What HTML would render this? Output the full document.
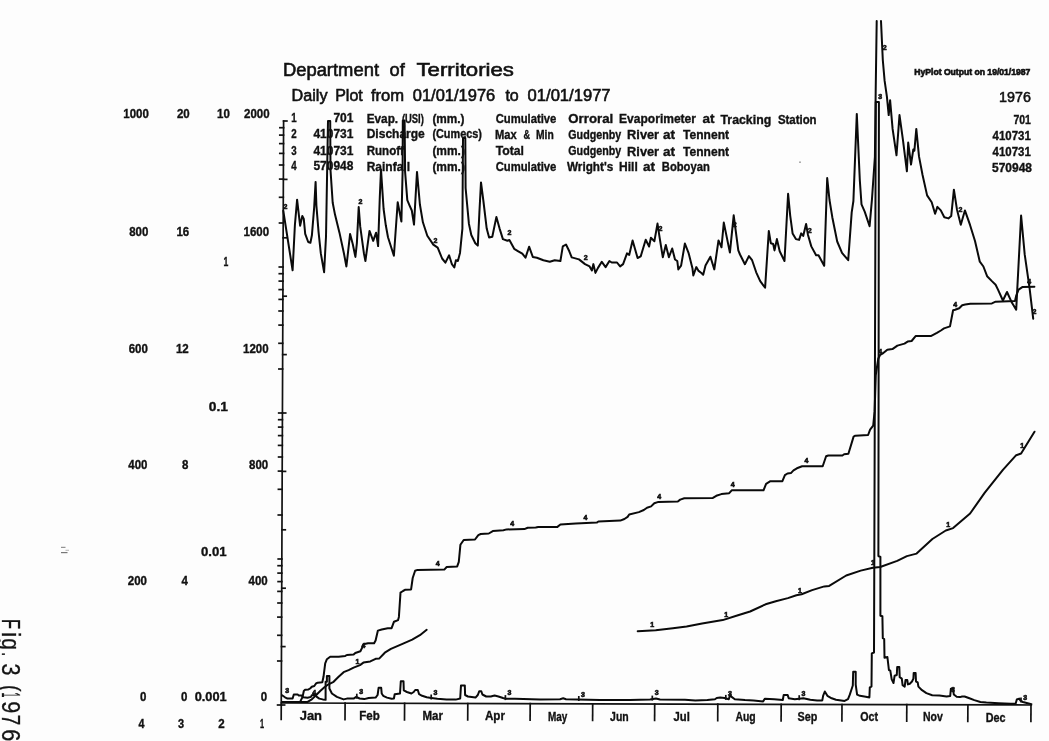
<!DOCTYPE html>
<html><head><meta charset="utf-8"><title>Daily Plot</title>
<style>html,body{margin:0;padding:0;background:#fdfdfd;}svg{display:block;}</style>
</head><body>
<svg width="1049" height="741" viewBox="0 0 1049 741">
<rect width="100%" height="100%" fill="#fdfdfd"/>
<g stroke="#111" stroke-width="1.7" fill="none" stroke-linecap="square">
<line x1="283.6" y1="121" x2="281.2" y2="719.5"/>
<line x1="281.3" y1="703.0" x2="1031.3" y2="705.0"/>
<line x1="345.1" y1="703.2" x2="345.0" y2="719.7"/>
<line x1="404.6" y1="703.3" x2="404.5" y2="719.8"/>
<line x1="467.8" y1="703.5" x2="467.7" y2="720.0"/>
<line x1="530.2" y1="703.7" x2="530.1" y2="720.2"/>
<line x1="592.7" y1="703.8" x2="592.6" y2="720.3"/>
<line x1="654.7" y1="704.0" x2="654.6" y2="720.5"/>
<line x1="717.8" y1="704.2" x2="717.7" y2="720.7"/>
<line x1="781.2" y1="704.3" x2="781.1" y2="720.8"/>
<line x1="842.0" y1="704.5" x2="841.9" y2="721.0"/>
<line x1="906.8" y1="704.7" x2="906.7" y2="721.2"/>
<line x1="967.9" y1="704.8" x2="967.8" y2="721.3"/>
<line x1="1031.0" y1="705.0" x2="1030.9" y2="721.5"/>
<line x1="283.6" y1="121.0" x2="286.9" y2="121.0"/>
<line x1="283.4" y1="179.4" x2="286.7" y2="179.4"/>
<line x1="283.1" y1="237.8" x2="286.4" y2="237.8"/>
<line x1="282.9" y1="296.2" x2="286.2" y2="296.2"/>
<line x1="282.7" y1="354.6" x2="286.0" y2="354.6"/>
<line x1="282.4" y1="413.0" x2="285.7" y2="413.0"/>
<line x1="282.2" y1="471.4" x2="285.5" y2="471.4"/>
<line x1="282.0" y1="529.8" x2="285.3" y2="529.8"/>
<line x1="281.8" y1="588.2" x2="285.1" y2="588.2"/>
<line x1="281.5" y1="646.6" x2="284.8" y2="646.6"/>
<line x1="281.3" y1="705.0" x2="284.6" y2="705.0"/>
<line x1="279.5" y1="223.0" x2="283.2" y2="223.0"/>
<line x1="279.6" y1="197.3" x2="283.3" y2="197.3"/>
<line x1="279.7" y1="179.1" x2="283.4" y2="179.1"/>
<line x1="279.7" y1="165.0" x2="283.4" y2="165.0"/>
<line x1="279.8" y1="153.4" x2="283.5" y2="153.4"/>
<line x1="279.8" y1="143.6" x2="283.5" y2="143.6"/>
<line x1="279.8" y1="135.1" x2="283.5" y2="135.1"/>
<line x1="279.9" y1="127.7" x2="283.6" y2="127.7"/>
<line x1="279.3" y1="267.0" x2="283.0" y2="267.0"/>
<line x1="278.9" y1="369.0" x2="282.6" y2="369.0"/>
<line x1="279.0" y1="343.3" x2="282.7" y2="343.3"/>
<line x1="279.1" y1="325.1" x2="282.8" y2="325.1"/>
<line x1="279.1" y1="311.0" x2="282.8" y2="311.0"/>
<line x1="279.2" y1="299.4" x2="282.9" y2="299.4"/>
<line x1="279.2" y1="289.6" x2="282.9" y2="289.6"/>
<line x1="279.3" y1="281.1" x2="283.0" y2="281.1"/>
<line x1="279.3" y1="273.7" x2="283.0" y2="273.7"/>
<line x1="278.7" y1="413.0" x2="282.4" y2="413.0"/>
<line x1="278.3" y1="515.0" x2="282.0" y2="515.0"/>
<line x1="278.4" y1="489.3" x2="282.1" y2="489.3"/>
<line x1="278.5" y1="471.1" x2="282.2" y2="471.1"/>
<line x1="278.6" y1="457.0" x2="282.3" y2="457.0"/>
<line x1="278.6" y1="445.4" x2="282.3" y2="445.4"/>
<line x1="278.7" y1="435.6" x2="282.4" y2="435.6"/>
<line x1="278.7" y1="427.1" x2="282.4" y2="427.1"/>
<line x1="278.7" y1="419.7" x2="282.4" y2="419.7"/>
<line x1="278.2" y1="559.0" x2="281.9" y2="559.0"/>
<line x1="277.8" y1="661.0" x2="281.5" y2="661.0"/>
<line x1="277.9" y1="635.3" x2="281.6" y2="635.3"/>
<line x1="277.9" y1="617.1" x2="281.6" y2="617.1"/>
<line x1="278.0" y1="603.0" x2="281.7" y2="603.0"/>
<line x1="278.0" y1="591.4" x2="281.7" y2="591.4"/>
<line x1="278.1" y1="581.6" x2="281.8" y2="581.6"/>
<line x1="278.1" y1="573.1" x2="281.8" y2="573.1"/>
<line x1="278.1" y1="565.7" x2="281.8" y2="565.7"/>
<line x1="277.6" y1="705.0" x2="281.3" y2="705.0"/>
</g>
<g stroke="#0a0a0a" stroke-width="2.0" fill="none" stroke-linejoin="round" stroke-linecap="round">
<polyline points="283.3,210.8 292.6,270.3 294.9,225.0 297.1,199.7 300.1,225.7 302.3,216.0 303.8,219.0 305.2,233.9 308.2,242.0 310.4,242.8 311.9,235.3 314.2,207.1 315.6,181.9 316.4,205.6 318.6,232.4 320.8,253.2 324.1,272.2 326.0,236.8 328.0,121.0 330.2,121.0 330.5,170.0 332.7,202.7 335.0,214.6 339.4,232.4 343.9,253.2 346.4,266.5 350.1,233.9 352.8,244.3 355.4,256.9 356.9,242.8 358.7,207.1 360.2,226.4 363.9,253.2 365.4,261.0 369.5,230.9 373.2,240.9 376.1,232.7 378.1,246.1 379.8,197.1 381.0,169.6 383.6,209.0 385.8,225.3 388.0,237.2 393.9,255.7 397.7,202.3 401.4,221.6 402.6,171.9 402.8,120.5 404.6,120.5 405.1,171.9 407.3,200.1 409.5,205.3 411.8,210.5 414.0,224.6 417.0,171.9 419.9,204.5 422.9,222.3 427.3,235.7 433.3,244.6 437.7,247.6 442.1,258.5 445.4,262.6 449.1,255.3 451.9,264.2 454.3,267.5 455.9,260.2 457.9,261.0 460.0,252.9 462.4,228.6 463.0,138.0 465.3,138.0 465.6,188.0 468.9,223.7 471.3,235.0 475.3,243.2 477.8,245.6 479.4,212.4 481.0,182.4 483.4,201.0 486.7,228.6 489.1,237.5 492.3,236.7 496.4,216.9 499.6,228.6 502.9,239.1 507.4,240.7 509.4,240.0 514.2,248.8 518.3,251.3 522.3,253.7 525.5,257.7 529.1,246.7 532.8,256.9 536.9,257.7 543.4,260.2 549.8,261.8 554.7,260.2 560.4,261.0 562.8,246.4 566.0,244.5 569.3,251.3 571.7,257.4 579.0,259.4 585.0,264.1 589.6,266.4 591.9,270.5 593.4,264.1 595.4,272.9 598.0,267.9 601.8,261.8 605.6,267.1 609.4,261.0 611.7,262.5 617.0,262.5 620.1,266.4 623.1,264.1 627.0,253.4 629.2,254.9 632.6,240.4 637.6,258.0 640.7,256.4 645.7,239.7 649.1,246.5 650.9,237.8 654.4,241.2 657.5,223.6 659.7,238.1 662.8,257.2 665.8,245.0 668.9,257.2 672.2,248.5 675.0,259.5 677.3,261.0 678.3,269.4 681.1,265.6 684.9,243.5 688.7,253.4 692.5,268.6 693.3,275.5 696.3,267.1 698.6,270.9 701.7,273.2 703.2,274.7 705.5,265.6 710.4,256.7 714.3,269.4 718.5,240.4 721.5,247.3 723.8,222.6 729.9,252.6 733.7,215.3 738.3,250.3 740.0,254.5 744.9,264.2 748.9,256.1 752.1,260.2 756.2,272.3 760.2,281.2 765.1,287.7 768.8,231.0 770.8,243.2 773.2,244.0 774.5,250.4 776.9,239.1 779.7,251.3 784.5,261.0 788.1,193.8 790.2,215.6 792.6,233.4 795.9,239.1 799.1,239.9 801.2,233.4 803.2,235.9 806.1,224.0 808.0,235.0 811.3,246.4 816.1,255.3 818.5,255.3 824.2,265.8 827.2,178.0 829.5,200.0 832.3,217.2 837.2,241.5 842.0,252.9 848.2,260.2 851.7,212.4 853.4,201.0 856.8,113.9 859.8,180.0 861.5,204.3 864.7,211.6 869.6,226.2 871.9,200.2 874.9,156.9 875.7,90.0 876.7,21.0"/>
<polyline points="881.0,21.0 882.8,60.0 884.6,80.7 886.9,96.7 888.7,115.1 890.1,100.2 892.6,128.9 896.5,155.3 899.5,115.1 903.0,140.3 906.9,171.3 908.2,142.6 911.0,164.5 913.3,149.5 914.4,150.7 916.3,128.9 919.0,156.4 922.5,174.8 927.1,195.4 931.7,202.3 935.1,213.8 937.4,206.9 940.8,210.4 944.3,217.3 948.4,218.4 951.2,216.1 953.9,189.7 956.9,209.2 960.8,224.8 964.9,210.4 970.1,225.2 975.0,241.0 979.8,261.7 983.4,266.5 987.1,276.2 991.9,281.1 995.6,284.7 998.0,289.6 1002.9,300.5 1007.0,292.0 1011.4,301.7 1016.2,309.7 1021.1,215.5 1024.7,254.4 1029.6,288.3 1033.2,318.7"/>
<polyline points="282.1,695.2 285.0,697.3 287.5,698.6 292.6,698.6 293.8,694.4 297.6,694.4 298.8,695.6 301.8,695.6 303.0,697.3 307.6,697.7 311.0,696.9 311.8,695.2 315.1,694.8 316.8,696.9 319.3,698.6 322.7,699.4 325.6,699.8 325.6,681.8 326.9,681.8 326.9,676.0 329.4,676.0 329.4,688.5 331.9,693.5 336.9,696.9 343.6,699.4 346.9,698.6 353.6,698.6 356.2,696.9 359.6,698.5 364.2,699.1 368.7,698.0 375.6,697.6 377.6,695.0 378.6,687.8 381.2,687.8 381.7,693.5 383.2,695.8 387.0,697.6 391.6,698.8 393.9,698.5 394.7,694.2 400.0,693.5 400.8,681.3 403.5,681.3 403.8,690.4 406.9,692.0 411.4,693.5 413.7,692.0 415.2,690.0 417.8,690.0 419.1,694.2 422.1,695.8 426.7,697.3 431.3,698.0 437.4,698.8 446.5,699.6 455.7,699.6 460.2,698.5 461.0,685.4 464.8,685.4 465.1,695.0 467.9,696.5 475.5,697.6 477.8,695.0 479.3,691.2 481.3,691.2 482.4,694.5 486.2,696.5 490.8,696.5 494.6,695.5 498.4,696.5 503.0,698.0 506.0,698.8 515.0,698.8 540.0,699.5 560.0,699.2 563.2,698.3 566.0,699.2 600.0,700.0 630.0,700.0 650.0,699.5 656.0,698.5 660.0,699.5 685.0,699.7 695.3,700.4 707.3,700.0 715.0,699.2 716.7,698.0 720.2,697.5 724.5,698.0 728.8,699.2 730.0,694.9 731.3,696.6 734.8,699.2 745.0,700.0 753.6,700.4 763.1,701.4 764.8,698.7 774.2,699.2 782.8,700.0 783.7,694.9 787.6,694.9 788.8,698.3 794.8,699.2 803.4,698.3 810.3,699.7 817.1,700.4 822.3,700.4 823.1,695.8 824.8,691.5 827.4,695.8 831.7,698.3 836.0,699.7 844.6,700.9 848.0,699.2 849.7,694.9 851.4,689.8 852.8,685.5 853.2,671.7 855.7,671.7 855.7,684.6 857.1,694.6 860.0,695.8 865.8,696.7 869.4,697.4 869.8,687.3 871.5,686.6 871.8,653.4 874.0,652.5 875.8,101.9 878.9,101.9 878.4,556.0 880.4,557.0 880.4,615.7 882.4,616.3 882.8,638.2 884.2,639.0 884.5,657.7 887.4,657.0 888.9,670.0 890.3,670.7 891.7,679.4 893.5,683.0 894.6,675.8 896.8,675.0 897.2,667.1 899.3,667.1 899.7,677.2 901.8,678.6 902.6,685.1 904.7,686.6 905.5,680.1 907.3,680.1 907.9,684.4 909.8,683.7 912.0,681.5 913.4,678.6 913.7,672.9 915.6,672.9 916.0,681.5 917.7,682.3 918.4,686.6 922.0,690.2 926.4,693.1 932.2,695.2 939.4,695.5 946.6,696.4 950.2,696.0 950.9,688.7 953.1,688.7 953.8,694.5 956.7,696.7 960.0,697.1 962.1,696.5 964.6,696.5 969.4,698.3 974.3,700.1 980.4,702.0 986.4,702.6 998.6,703.2 1010.7,703.8 1015.6,703.8 1016.8,699.5 1019.2,698.6 1020.5,700.7 1022.9,702.0 1027.7,703.2 1031.4,704.1"/>
<polyline points="282.6,701.9 300.1,701.9 302.6,696.9 303.8,691.0 305.1,689.8 308.5,689.4 310.1,688.5 311.8,686.8 314.3,686.0 316.0,683.5 317.7,682.7 322.3,682.2 323.5,676.8 325.2,663.4 326.9,659.2 330.2,656.7 338.6,656.7 345.3,655.9 346.9,655.0 353.6,654.6 355.3,653.0 360.4,651.2 362.7,646.6 363.4,644.3 368.0,643.3 374.1,643.3 375.6,640.5 377.9,630.6 381.7,629.5 387.8,628.3 391.6,628.2 394.0,621.7 398.1,620.1 398.9,616.9 400.5,592.6 403.0,591.0 405.4,589.7 411.1,589.4 412.7,578.0 415.1,570.7 417.5,569.9 444.3,569.6 446.7,567.0 457.2,566.4 458.8,561.8 460.4,544.8 463.7,540.0 475.0,539.5 478.3,535.1 480.7,534.0 488.8,533.5 492.8,531.1 503.4,530.2 506.6,529.4 524.4,529.1 527.7,527.8 535.7,527.5 538.2,527.0 557.1,527.1 560.4,524.5 575.8,523.4 596.8,522.6 598.4,521.5 620.3,520.6 624.4,519.0 627.6,516.9 629.2,514.5 638.9,512.1 643.8,510.0 647.0,507.7 651.1,506.4 654.3,503.2 658.4,501.9 677.8,501.5 680.2,499.6 684.3,498.3 712.9,497.9 716.3,495.8 721.4,494.1 729.2,493.2 731.7,490.3 763.5,490.3 766.1,483.8 770.4,481.2 782.4,481.2 784.9,475.2 787.5,473.5 790.9,473.1 793.5,470.4 796.9,468.3 802.1,466.3 822.7,466.3 826.1,456.3 828.3,455.5 842.4,455.5 844.1,454.3 848.4,453.8 853.6,436.6 855.3,435.7 868.1,435.0 870.1,429.6 873.2,425.6 874.6,411.4 875.8,375.0 878.2,358.8 880.2,354.8 883.3,353.1 887.3,349.7 892.4,349.1 897.4,345.6 904.5,343.6 907.6,341.6 911.6,341.0 915.6,336.1 930.8,336.1 936.9,332.9 940.9,330.5 944.0,328.4 950.0,326.4 953.1,310.2 955.1,309.8 959.2,308.2 962.2,305.2 965.2,304.6 970.3,303.8 991.9,303.4 995.6,301.7 1015.0,301.0 1016.2,295.6 1018.6,289.6 1022.3,287.1 1034.4,286.7"/>
<polyline points="282.6,701.9 307.6,701.9 311.8,699.4 316.0,695.2 320.2,691.0 324.4,687.3 328.5,684.3 333.6,681.8 338.6,676.8 343.6,672.2 348.6,670.1 353.6,667.6 360.0,665.1 363.4,662.6 370.3,661.4 375.6,658.8 379.4,658.4 384.8,652.7 390.9,648.9 403.1,643.6 412.2,639.7 419.9,635.2 426.7,629.8"/>
<polyline points="637.7,631.2 655.7,630.3 672.9,628.3 686.6,626.6 702.1,623.5 722.7,620.1 736.4,615.8 750.1,611.5 765.6,604.3 775.8,601.2 787.9,598.1 796.4,595.2 801.6,594.3 812.1,590.1 824.3,586.4 829.2,585.9 846.2,575.5 860.7,570.6 872.9,567.7 880.2,567.0 897.2,560.9 906.9,556.1 916.6,553.6 932.4,539.0 945.8,530.5 953.1,528.1 970.1,513.5 984.6,492.9 1002.9,469.8 1016.2,455.2 1021.1,453.5 1034.5,431.7"/>
</g>
<g stroke="#111" stroke-width="1.7" fill="none">
<line x1="356.8" y1="693.7" x2="356.8" y2="698.7"/>
<line x1="431.2" y1="694.5" x2="431.2" y2="699.5"/>
<line x1="505.4" y1="695.1" x2="505.4" y2="700.1"/>
<line x1="578.8" y1="696.0" x2="578.8" y2="701.0"/>
<line x1="652.3" y1="695.6" x2="652.3" y2="700.6"/>
<line x1="725.8" y1="694.9" x2="725.8" y2="699.9"/>
<line x1="799.2" y1="695.2" x2="799.2" y2="700.2"/>
<line x1="1021.0" y1="697.5" x2="1021.0" y2="702.5"/>
</g>
<g font-family="Liberation Sans, sans-serif" font-weight="bold" font-size="7" fill="#111" stroke="#111" stroke-width="0.6" text-anchor="middle">
<text x="285.5" y="208.6">2</text>
<text x="360.5" y="204.1">2</text>
<text x="435.5" y="243.1">2</text>
<text x="509.4" y="235.2">2</text>
<text x="585.8" y="260.3">2</text>
<text x="660.5" y="230.8">2</text>
<text x="734.6" y="227.1">2</text>
<text x="809.6" y="232.8">2</text>
<text x="884.6" y="50.4">2</text>
<text x="960.4" y="212.1">2</text>
<text x="1034.4" y="314.0">2</text>
<text x="287.3" y="693.4">3</text>
<text x="361.1" y="693.8">3</text>
<text x="435.5" y="695.0">3</text>
<text x="509.4" y="695.0">3</text>
<text x="582.9" y="696.6">3</text>
<text x="656.7" y="694.9">3</text>
<text x="730.0" y="696.1">3</text>
<text x="803.4" y="695.8">3</text>
<text x="880.1" y="98.6">3</text>
<text x="953.0" y="691.6">3</text>
<text x="1025.3" y="699.7">3</text>
<text x="314.3" y="695.3">4</text>
<text x="363.4" y="647.6">4</text>
<text x="437.8" y="566.0">4</text>
<text x="512.3" y="525.9">4</text>
<text x="585.5" y="519.5">4</text>
<text x="659.2" y="499.3">4</text>
<text x="732.6" y="487.2">4</text>
<text x="806.4" y="463.2">4</text>
<text x="880.2" y="354.3">4</text>
<text x="955.1" y="306.8">4</text>
<text x="1029.1" y="283.6">4</text>
<text x="357.4" y="663.9">1</text>
<text x="652.3" y="626.9">1</text>
<text x="726.1" y="616.6">1</text>
<text x="799.9" y="592.6">1</text>
<text x="872.9" y="564.7">1</text>
<text x="948.2" y="527.1">1</text>
<text x="1022.3" y="448.1">1</text>
</g>
<g fill="#111">
<text x="282.9" y="75.6" font-family="Liberation Sans, sans-serif" font-weight="normal" font-size="18.5" textLength="96.1" lengthAdjust="spacingAndGlyphs" stroke="#111" stroke-width="0.6">Department</text>
<text x="389.5" y="75.6" font-family="Liberation Sans, sans-serif" font-weight="normal" font-size="18.5" textLength="15.2" lengthAdjust="spacingAndGlyphs" stroke="#111" stroke-width="0.6">of</text>
<text x="416.5" y="75.6" font-family="Liberation Sans, sans-serif" font-weight="normal" font-size="18.5" textLength="97.4" lengthAdjust="spacingAndGlyphs" stroke="#111" stroke-width="0.6">Territories</text>
<text x="291.5" y="100.6" font-family="Liberation Sans, sans-serif" font-weight="normal" font-size="17" textLength="36.0" lengthAdjust="spacingAndGlyphs" stroke="#111" stroke-width="0.6">Daily</text>
<text x="335.2" y="100.6" font-family="Liberation Sans, sans-serif" font-weight="normal" font-size="17" textLength="27.6" lengthAdjust="spacingAndGlyphs" stroke="#111" stroke-width="0.6">Plot</text>
<text x="370.9" y="100.6" font-family="Liberation Sans, sans-serif" font-weight="normal" font-size="17" textLength="33.2" lengthAdjust="spacingAndGlyphs" stroke="#111" stroke-width="0.6">from</text>
<text x="412.8" y="100.6" font-family="Liberation Sans, sans-serif" font-weight="normal" font-size="17" textLength="82.4" lengthAdjust="spacingAndGlyphs" stroke="#111" stroke-width="0.6">01/01/1976</text>
<text x="505.4" y="100.6" font-family="Liberation Sans, sans-serif" font-weight="normal" font-size="17" textLength="13.4" lengthAdjust="spacingAndGlyphs" stroke="#111" stroke-width="0.6">to</text>
<text x="527.6" y="100.6" font-family="Liberation Sans, sans-serif" font-weight="normal" font-size="17" textLength="83.0" lengthAdjust="spacingAndGlyphs" stroke="#111" stroke-width="0.6">01/01/1977</text>
<text x="914.3" y="75.2" font-family="Liberation Sans, sans-serif" font-weight="bold" font-size="9.5" textLength="116.1" lengthAdjust="spacingAndGlyphs" stroke="#111" stroke-width="0.7">HyPlot Output on 19/01/1987</text>
<text x="999.1" y="102.0" font-family="Liberation Sans, sans-serif" font-weight="normal" font-size="14.5" textLength="31.8" lengthAdjust="spacingAndGlyphs" stroke="#111" stroke-width="0.55">1976</text>
<text x="291.2" y="122.4" font-family="Liberation Sans, sans-serif" font-weight="bold" font-size="12.3" textLength="5.4" lengthAdjust="spacingAndGlyphs" stroke="#111" stroke-width="0.35">1</text>
<text x="333.4" y="122.4" font-family="Liberation Sans, sans-serif" font-weight="bold" font-size="12.3" textLength="20.0" lengthAdjust="spacingAndGlyphs" stroke="#111" stroke-width="0.35">701</text>
<text x="366.7" y="122.6" font-family="Liberation Sans, sans-serif" font-weight="bold" font-size="12.3" textLength="31.4" lengthAdjust="spacingAndGlyphs" stroke="#111" stroke-width="0.35">Evap.</text>
<text x="401.9" y="122.7" font-family="Liberation Sans, sans-serif" font-weight="bold" font-size="12.3" textLength="22.0" lengthAdjust="spacingAndGlyphs" stroke="#111" stroke-width="0.35">(USI)</text>
<text x="432.4" y="122.7" font-family="Liberation Sans, sans-serif" font-weight="bold" font-size="12.3" textLength="32.1" lengthAdjust="spacingAndGlyphs" stroke="#111" stroke-width="0.35">(mm.)</text>
<text x="495.7" y="123.0" font-family="Liberation Sans, sans-serif" font-weight="bold" font-size="12.3" textLength="60.7" lengthAdjust="spacingAndGlyphs" stroke="#111" stroke-width="0.35">Cumulative</text>
<text x="568.3" y="123.1" font-family="Liberation Sans, sans-serif" font-weight="bold" font-size="12.3" textLength="44.9" lengthAdjust="spacingAndGlyphs" stroke="#111" stroke-width="0.35">Orroral</text>
<text x="619.1" y="123.3" font-family="Liberation Sans, sans-serif" font-weight="bold" font-size="12.3" textLength="76.9" lengthAdjust="spacingAndGlyphs" stroke="#111" stroke-width="0.35">Evaporimeter</text>
<text x="702.6" y="123.4" font-family="Liberation Sans, sans-serif" font-weight="bold" font-size="12.3" textLength="12.0" lengthAdjust="spacingAndGlyphs" stroke="#111" stroke-width="0.35">at</text>
<text x="720.5" y="123.5" font-family="Liberation Sans, sans-serif" font-weight="bold" font-size="12.3" textLength="50.7" lengthAdjust="spacingAndGlyphs" stroke="#111" stroke-width="0.35">Tracking</text>
<text x="777.9" y="123.7" font-family="Liberation Sans, sans-serif" font-weight="bold" font-size="12.3" textLength="38.7" lengthAdjust="spacingAndGlyphs" stroke="#111" stroke-width="0.35">Station</text>
<text x="1013.4" y="124.3" font-family="Liberation Sans, sans-serif" font-weight="bold" font-size="12.3" textLength="17.5" lengthAdjust="spacingAndGlyphs" stroke="#111" stroke-width="0.35">701</text>
<text x="291.2" y="138.0" font-family="Liberation Sans, sans-serif" font-weight="bold" font-size="12.3" textLength="5.4" lengthAdjust="spacingAndGlyphs" stroke="#111" stroke-width="0.35">2</text>
<text x="313.4" y="138.0" font-family="Liberation Sans, sans-serif" font-weight="bold" font-size="12.3" textLength="40.0" lengthAdjust="spacingAndGlyphs" stroke="#111" stroke-width="0.35">410731</text>
<text x="366.7" y="138.2" font-family="Liberation Sans, sans-serif" font-weight="bold" font-size="12.3" textLength="58.1" lengthAdjust="spacingAndGlyphs" stroke="#111" stroke-width="0.35">Discharge</text>
<text x="432.4" y="138.4" font-family="Liberation Sans, sans-serif" font-weight="bold" font-size="12.3" textLength="49.6" lengthAdjust="spacingAndGlyphs" stroke="#111" stroke-width="0.35">(Cumecs)</text>
<text x="495.0" y="138.5" font-family="Liberation Sans, sans-serif" font-weight="bold" font-size="12.3" textLength="21.7" lengthAdjust="spacingAndGlyphs" stroke="#111" stroke-width="0.35">Max</text>
<text x="523.4" y="138.6" font-family="Liberation Sans, sans-serif" font-weight="bold" font-size="12.3" textLength="6.6" lengthAdjust="spacingAndGlyphs" stroke="#111" stroke-width="0.35">&amp;</text>
<text x="536.0" y="138.6" font-family="Liberation Sans, sans-serif" font-weight="bold" font-size="12.3" textLength="17.7" lengthAdjust="spacingAndGlyphs" stroke="#111" stroke-width="0.35">Min</text>
<text x="568.3" y="138.7" font-family="Liberation Sans, sans-serif" font-weight="bold" font-size="12.3" textLength="52.9" lengthAdjust="spacingAndGlyphs" stroke="#111" stroke-width="0.35">Gudgenby</text>
<text x="627.1" y="138.9" font-family="Liberation Sans, sans-serif" font-weight="bold" font-size="12.3" textLength="32.0" lengthAdjust="spacingAndGlyphs" stroke="#111" stroke-width="0.35">River</text>
<text x="663.1" y="138.9" font-family="Liberation Sans, sans-serif" font-weight="bold" font-size="12.3" textLength="12.0" lengthAdjust="spacingAndGlyphs" stroke="#111" stroke-width="0.35">at</text>
<text x="683.1" y="139.0" font-family="Liberation Sans, sans-serif" font-weight="bold" font-size="12.3" textLength="45.9" lengthAdjust="spacingAndGlyphs" stroke="#111" stroke-width="0.35">Tennent</text>
<text x="992.6" y="140.0" font-family="Liberation Sans, sans-serif" font-weight="bold" font-size="12.3" textLength="38.3" lengthAdjust="spacingAndGlyphs" stroke="#111" stroke-width="0.35">410731</text>
<text x="291.2" y="154.6" font-family="Liberation Sans, sans-serif" font-weight="bold" font-size="12.3" textLength="5.4" lengthAdjust="spacingAndGlyphs" stroke="#111" stroke-width="0.35">3</text>
<text x="313.4" y="154.6" font-family="Liberation Sans, sans-serif" font-weight="bold" font-size="12.3" textLength="40.0" lengthAdjust="spacingAndGlyphs" stroke="#111" stroke-width="0.35">410731</text>
<text x="366.7" y="154.8" font-family="Liberation Sans, sans-serif" font-weight="bold" font-size="12.3" textLength="37.2" lengthAdjust="spacingAndGlyphs" stroke="#111" stroke-width="0.35">Runoff</text>
<text x="432.4" y="154.9" font-family="Liberation Sans, sans-serif" font-weight="bold" font-size="12.3" textLength="32.5" lengthAdjust="spacingAndGlyphs" stroke="#111" stroke-width="0.35">(mm.)</text>
<text x="495.7" y="155.1" font-family="Liberation Sans, sans-serif" font-weight="bold" font-size="12.3" textLength="28.3" lengthAdjust="spacingAndGlyphs" stroke="#111" stroke-width="0.35">Total</text>
<text x="568.3" y="155.3" font-family="Liberation Sans, sans-serif" font-weight="bold" font-size="12.3" textLength="52.9" lengthAdjust="spacingAndGlyphs" stroke="#111" stroke-width="0.35">Gudgenby</text>
<text x="627.1" y="155.5" font-family="Liberation Sans, sans-serif" font-weight="bold" font-size="12.3" textLength="32.0" lengthAdjust="spacingAndGlyphs" stroke="#111" stroke-width="0.35">River</text>
<text x="663.1" y="155.5" font-family="Liberation Sans, sans-serif" font-weight="bold" font-size="12.3" textLength="12.0" lengthAdjust="spacingAndGlyphs" stroke="#111" stroke-width="0.35">at</text>
<text x="683.1" y="155.6" font-family="Liberation Sans, sans-serif" font-weight="bold" font-size="12.3" textLength="45.9" lengthAdjust="spacingAndGlyphs" stroke="#111" stroke-width="0.35">Tennent</text>
<text x="992.6" y="156.2" font-family="Liberation Sans, sans-serif" font-weight="bold" font-size="12.3" textLength="38.3" lengthAdjust="spacingAndGlyphs" stroke="#111" stroke-width="0.35">410731</text>
<text x="291.2" y="170.4" font-family="Liberation Sans, sans-serif" font-weight="bold" font-size="12.3" textLength="5.4" lengthAdjust="spacingAndGlyphs" stroke="#111" stroke-width="0.35">4</text>
<text x="313.4" y="170.4" font-family="Liberation Sans, sans-serif" font-weight="bold" font-size="12.3" textLength="40.0" lengthAdjust="spacingAndGlyphs" stroke="#111" stroke-width="0.35">570948</text>
<text x="366.7" y="170.6" font-family="Liberation Sans, sans-serif" font-weight="bold" font-size="12.3" textLength="43.3" lengthAdjust="spacingAndGlyphs" stroke="#111" stroke-width="0.35">Rainfall</text>
<text x="432.4" y="170.7" font-family="Liberation Sans, sans-serif" font-weight="bold" font-size="12.3" textLength="32.5" lengthAdjust="spacingAndGlyphs" stroke="#111" stroke-width="0.35">(mm.)</text>
<text x="495.7" y="171.0" font-family="Liberation Sans, sans-serif" font-weight="bold" font-size="12.3" textLength="60.7" lengthAdjust="spacingAndGlyphs" stroke="#111" stroke-width="0.35">Cumulative</text>
<text x="567.0" y="171.1" font-family="Liberation Sans, sans-serif" font-weight="bold" font-size="12.3" textLength="46.2" lengthAdjust="spacingAndGlyphs" stroke="#111" stroke-width="0.35">Wright's</text>
<text x="619.1" y="171.2" font-family="Liberation Sans, sans-serif" font-weight="bold" font-size="12.3" textLength="18.7" lengthAdjust="spacingAndGlyphs" stroke="#111" stroke-width="0.35">Hill</text>
<text x="643.1" y="171.3" font-family="Liberation Sans, sans-serif" font-weight="bold" font-size="12.3" textLength="12.0" lengthAdjust="spacingAndGlyphs" stroke="#111" stroke-width="0.35">at</text>
<text x="661.8" y="171.4" font-family="Liberation Sans, sans-serif" font-weight="bold" font-size="12.3" textLength="48.0" lengthAdjust="spacingAndGlyphs" stroke="#111" stroke-width="0.35">Boboyan</text>
<text x="992.0" y="172.0" font-family="Liberation Sans, sans-serif" font-weight="bold" font-size="12.3" textLength="40.0" lengthAdjust="spacingAndGlyphs" stroke="#111" stroke-width="0.35">570948</text>
<text x="123.3" y="118.2" font-family="Liberation Sans, sans-serif" font-weight="bold" font-size="12.3" textLength="25.6" lengthAdjust="spacingAndGlyphs" stroke="#111" stroke-width="0.35">1000</text>
<text x="176.9" y="118.2" font-family="Liberation Sans, sans-serif" font-weight="bold" font-size="12.3" textLength="12.8" lengthAdjust="spacingAndGlyphs" stroke="#111" stroke-width="0.35">20</text>
<text x="244.0" y="118.2" font-family="Liberation Sans, sans-serif" font-weight="bold" font-size="12.3" textLength="25.6" lengthAdjust="spacingAndGlyphs" stroke="#111" stroke-width="0.35">2000</text>
<text x="129.2" y="236.2" font-family="Liberation Sans, sans-serif" font-weight="bold" font-size="12.3" textLength="19.2" lengthAdjust="spacingAndGlyphs" stroke="#111" stroke-width="0.35">800</text>
<text x="176.4" y="236.2" font-family="Liberation Sans, sans-serif" font-weight="bold" font-size="12.3" textLength="12.8" lengthAdjust="spacingAndGlyphs" stroke="#111" stroke-width="0.35">16</text>
<text x="243.5" y="236.2" font-family="Liberation Sans, sans-serif" font-weight="bold" font-size="12.3" textLength="25.6" lengthAdjust="spacingAndGlyphs" stroke="#111" stroke-width="0.35">1600</text>
<text x="128.7" y="352.8" font-family="Liberation Sans, sans-serif" font-weight="bold" font-size="12.3" textLength="19.2" lengthAdjust="spacingAndGlyphs" stroke="#111" stroke-width="0.35">600</text>
<text x="175.9" y="352.8" font-family="Liberation Sans, sans-serif" font-weight="bold" font-size="12.3" textLength="12.8" lengthAdjust="spacingAndGlyphs" stroke="#111" stroke-width="0.35">12</text>
<text x="243.0" y="352.8" font-family="Liberation Sans, sans-serif" font-weight="bold" font-size="12.3" textLength="25.6" lengthAdjust="spacingAndGlyphs" stroke="#111" stroke-width="0.35">1200</text>
<text x="128.3" y="469.0" font-family="Liberation Sans, sans-serif" font-weight="bold" font-size="12.3" textLength="19.2" lengthAdjust="spacingAndGlyphs" stroke="#111" stroke-width="0.35">400</text>
<text x="181.9" y="469.0" font-family="Liberation Sans, sans-serif" font-weight="bold" font-size="12.3" textLength="6.4" lengthAdjust="spacingAndGlyphs" stroke="#111" stroke-width="0.35">8</text>
<text x="249.0" y="469.0" font-family="Liberation Sans, sans-serif" font-weight="bold" font-size="12.3" textLength="19.2" lengthAdjust="spacingAndGlyphs" stroke="#111" stroke-width="0.35">800</text>
<text x="127.8" y="584.8" font-family="Liberation Sans, sans-serif" font-weight="bold" font-size="12.3" textLength="19.2" lengthAdjust="spacingAndGlyphs" stroke="#111" stroke-width="0.35">200</text>
<text x="181.4" y="584.8" font-family="Liberation Sans, sans-serif" font-weight="bold" font-size="12.3" textLength="6.4" lengthAdjust="spacingAndGlyphs" stroke="#111" stroke-width="0.35">4</text>
<text x="248.5" y="584.8" font-family="Liberation Sans, sans-serif" font-weight="bold" font-size="12.3" textLength="19.2" lengthAdjust="spacingAndGlyphs" stroke="#111" stroke-width="0.35">400</text>
<text x="140.1" y="701.0" font-family="Liberation Sans, sans-serif" font-weight="bold" font-size="12.3" textLength="6.4" lengthAdjust="spacingAndGlyphs" stroke="#111" stroke-width="0.35">0</text>
<text x="180.9" y="701.0" font-family="Liberation Sans, sans-serif" font-weight="bold" font-size="12.3" textLength="6.4" lengthAdjust="spacingAndGlyphs" stroke="#111" stroke-width="0.35">0</text>
<text x="260.8" y="701.0" font-family="Liberation Sans, sans-serif" font-weight="bold" font-size="12.3" textLength="6.4" lengthAdjust="spacingAndGlyphs" stroke="#111" stroke-width="0.35">0</text>
<text x="217.1" y="118.2" font-family="Liberation Sans, sans-serif" font-weight="bold" font-size="12.3" textLength="12.8" lengthAdjust="spacingAndGlyphs" stroke="#111" stroke-width="0.35">10</text>
<text x="223.5" y="265.8" font-family="Liberation Sans, sans-serif" font-weight="bold" font-size="12.3" textLength="4.8" lengthAdjust="spacingAndGlyphs" stroke="#111" stroke-width="0.35">1</text>
<text x="208.8" y="411.0" font-family="Liberation Sans, sans-serif" font-weight="bold" font-size="12.3" textLength="19.2" lengthAdjust="spacingAndGlyphs" stroke="#111" stroke-width="0.35">0.1</text>
<text x="201.0" y="555.5" font-family="Liberation Sans, sans-serif" font-weight="bold" font-size="12.3" textLength="25.6" lengthAdjust="spacingAndGlyphs" stroke="#111" stroke-width="0.35">0.01</text>
<text x="194.7" y="701.0" font-family="Liberation Sans, sans-serif" font-weight="bold" font-size="12.3" textLength="32.0" lengthAdjust="spacingAndGlyphs" stroke="#111" stroke-width="0.35">0.001</text>
<text x="138.4" y="728.3" font-family="Liberation Sans, sans-serif" font-weight="bold" font-size="12.3" textLength="6.0" lengthAdjust="spacingAndGlyphs" stroke="#111" stroke-width="0.35">4</text>
<text x="178.1" y="728.3" font-family="Liberation Sans, sans-serif" font-weight="bold" font-size="12.3" textLength="6.1" lengthAdjust="spacingAndGlyphs" stroke="#111" stroke-width="0.35">3</text>
<text x="218.3" y="728.3" font-family="Liberation Sans, sans-serif" font-weight="bold" font-size="12.3" textLength="6.4" lengthAdjust="spacingAndGlyphs" stroke="#111" stroke-width="0.35">2</text>
<text x="259.9" y="728.3" font-family="Liberation Sans, sans-serif" font-weight="bold" font-size="12.3" textLength="4.1" lengthAdjust="spacingAndGlyphs" stroke="#111" stroke-width="0.35">1</text>
<text x="299.7" y="719.9" font-family="Liberation Sans, sans-serif" font-weight="bold" font-size="12.3" textLength="22.3" lengthAdjust="spacingAndGlyphs" stroke="#111" stroke-width="0.35">Jan</text>
<text x="359.2" y="720.0" font-family="Liberation Sans, sans-serif" font-weight="bold" font-size="12.3" textLength="20.5" lengthAdjust="spacingAndGlyphs" stroke="#111" stroke-width="0.35">Feb</text>
<text x="422.4" y="720.2" font-family="Liberation Sans, sans-serif" font-weight="bold" font-size="12.3" textLength="20.5" lengthAdjust="spacingAndGlyphs" stroke="#111" stroke-width="0.35">Mar</text>
<text x="484.9" y="720.4" font-family="Liberation Sans, sans-serif" font-weight="bold" font-size="12.3" textLength="20.1" lengthAdjust="spacingAndGlyphs" stroke="#111" stroke-width="0.35">Apr</text>
<text x="548.0" y="720.5" font-family="Liberation Sans, sans-serif" font-weight="bold" font-size="12.3" textLength="19.4" lengthAdjust="spacingAndGlyphs" stroke="#111" stroke-width="0.35">May</text>
<text x="610.1" y="720.6" font-family="Liberation Sans, sans-serif" font-weight="bold" font-size="12.3" textLength="18.6" lengthAdjust="spacingAndGlyphs" stroke="#111" stroke-width="0.35">Jun</text>
<text x="673.6" y="720.8" font-family="Liberation Sans, sans-serif" font-weight="bold" font-size="12.3" textLength="16.3" lengthAdjust="spacingAndGlyphs" stroke="#111" stroke-width="0.35">Jul</text>
<text x="735.5" y="720.9" font-family="Liberation Sans, sans-serif" font-weight="bold" font-size="12.3" textLength="20.2" lengthAdjust="spacingAndGlyphs" stroke="#111" stroke-width="0.35">Aug</text>
<text x="797.5" y="721.1" font-family="Liberation Sans, sans-serif" font-weight="bold" font-size="12.3" textLength="19.8" lengthAdjust="spacingAndGlyphs" stroke="#111" stroke-width="0.35">Sep</text>
<text x="860.3" y="721.2" font-family="Liberation Sans, sans-serif" font-weight="bold" font-size="12.3" textLength="17.8" lengthAdjust="spacingAndGlyphs" stroke="#111" stroke-width="0.35">Oct</text>
<text x="923.0" y="721.4" font-family="Liberation Sans, sans-serif" font-weight="bold" font-size="12.3" textLength="19.8" lengthAdjust="spacingAndGlyphs" stroke="#111" stroke-width="0.35">Nov</text>
<text x="985.7" y="721.5" font-family="Liberation Sans, sans-serif" font-weight="bold" font-size="12.3" textLength="19.8" lengthAdjust="spacingAndGlyphs" stroke="#111" stroke-width="0.35">Dec</text>
</g>
<g font-family="Liberation Sans, sans-serif" font-size="26" fill="#151515" stroke="#151515" stroke-width="0.3">
<text transform="translate(1.6,619.08) rotate(90) scale(0.636,1)" x="0" y="0">F</text>
<text transform="translate(1.6,631.80) rotate(90) scale(0.962,1)" x="0" y="0">i</text>
<text transform="translate(1.6,638.17) rotate(90) scale(0.801,1)" x="0" y="0">g</text>
<text transform="translate(1.6,652.17) rotate(90) scale(0.545,1)" x="0" y="0">.</text>
<text transform="translate(1.6,663.53) rotate(90) scale(0.833,1)" x="0" y="0">3</text>
<text transform="translate(1.6,684.91) rotate(90) scale(0.755,1)" x="0" y="0">(</text>
<text transform="translate(1.6,692.59) rotate(90) scale(0.341,1)" x="0" y="0">1</text>
<text transform="translate(1.6,701.23) rotate(90) scale(0.833,1)" x="0" y="0">9</text>
<text transform="translate(1.6,714.43) rotate(90) scale(0.745,1)" x="0" y="0">7</text>
<text transform="translate(1.6,729.13) rotate(90) scale(0.833,1)" x="0" y="0">6</text>
</g>
<g fill="#888"><rect x="61" y="546.8" width="4.5" height="1.1"/><rect x="65.5" y="549.8" width="3.5" height="0.9" fill="#aaa"/><rect x="61" y="552" width="6.5" height="1.2" fill="#777"/><circle cx="800" cy="162.2" r="0.9" fill="#999"/></g>
</svg>
</body></html>
